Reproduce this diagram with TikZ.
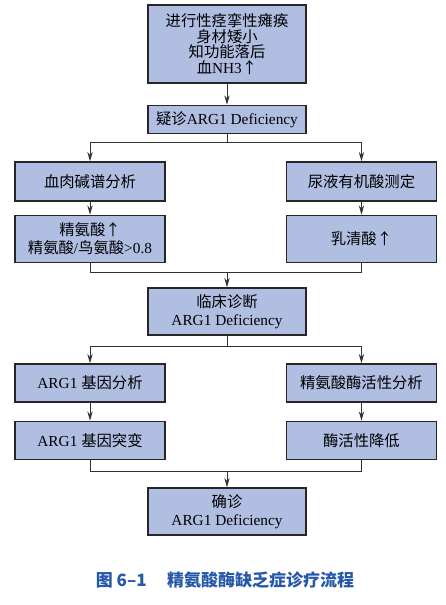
\documentclass[tikz,border=0pt]{standalone}
\usepackage{fontspec}
\setmainfont{Liberation Serif}
\newfontfamily\cjk{Noto Sans CJK SC}
\newcommand{\zh}[1]{{\cjk #1}}
\usetikzlibrary{arrows.meta,positioning}
\definecolor{boxblue}{RGB}{176,190,226}
\definecolor{capblue}{RGB}{38,88,168}

\begin{document}
\begin{tikzpicture}[
  x=0.75pt, y=-0.75pt,
  node distance=9.75pt and 90pt,
  font=\fontsize{11.5}{13.5}\selectfont,
  box/.style={rectangle, draw=black!85, line width=1.1pt, fill=boxblue,
              minimum width=112.5pt, minimum height=29.25pt, align=center, inner sep=2pt},
  wide/.style={minimum width=118.5pt},
  tall/.style={minimum height=35.25pt},
  line/.style={draw=black!80, line width=0.75pt},
  arr/.style={line, -{Stealth[length=7pt,width=4pt]}},
  caption/.style={font=\fontsize{12.75}{14}\selectfont\cjk\bfseries, text=capblue}
]
\useasboundingbox (0,0) rectangle (445,605);

\node[box, wide, minimum height=58.5pt, font=\fontsize{11.5}{11.7}\selectfont] (sym) at (227,44)
  {\zh{进行性痉挛性瘫痪}\\\zh{身材矮小}\\\zh{知功能落后}\\\zh{血}NH3\zh{↑}};
\node[box, wide, minimum height=21pt, below=15.75pt of sym] (sus) {\zh{疑诊}ARG1 Deficiency};
\node[box] (pc) at (90,181.5) {\zh{血肉碱谱分析}};
\node[box, right=of pc] (uoa) {\zh{尿液有机酸测定}};
\node[box, tall, below=of pc] (arg) {\zh{精氨酸↑}\\\zh{精氨酸}/\zh{鸟氨酸}>0.8};
\node[box, tall, below=of uoa] (lac) {\zh{乳清酸↑}};
\node[box, wide, tall] (clin) at (227,311.5) {\zh{临床诊断}\\ARG1 Deficiency};
\node[box, minimum height=28.5pt] (gene) at (90,383) {ARG1 \zh{基因分析}};
\node[box, minimum height=28.5pt, right=of gene] (enz) {\zh{精氨酸酶活性分析}};
\node[box, minimum height=28.5pt, below=13.5pt of gene] (mut) {ARG1 \zh{基因突变}};
\node[box, minimum height=28.5pt, below=13.5pt of enz] (low) {\zh{酶活性降低}};
\node[box, wide, tall] (conf) at (227,511.5) {\zh{确诊}\\ARG1 Deficiency};
\node[caption] (cap) at (225,580) {图 6–1\hspace{1.2em}精氨酸酶缺乏症诊疗流程};

% branch points
\coordinate (b1) at (sus.south |- 0,143);
\coordinate (b2) at (clin.north |- 0,273);
\coordinate (b3) at (clin.south |- 0,346);
\coordinate (b4) at (conf.north |- 0,471);

\draw[arr] (sym) -- (sus);
\draw[line] (sus) -- (b1);
\draw[arr] (b1) -| (pc);
\draw[arr] (b1) -| (uoa);
\draw[arr] (pc) -- (arg);
\draw[arr] (uoa) -- (lac);
\draw[line] (arg) |- (b2);
\draw[line] (lac) |- (b2);
\draw[arr] (b2) -- (clin);
\draw[line] (clin) -- (b3);
\draw[arr] (b3) -| (gene);
\draw[arr] (b3) -| (enz);
\draw[arr] (gene) -- (mut);
\draw[arr] (enz) -- (low);
\draw[line] (mut) |- (b4);
\draw[line] (low) |- (b4);
\draw[arr] (b4) -- (conf);

\end{tikzpicture}
\end{document}
